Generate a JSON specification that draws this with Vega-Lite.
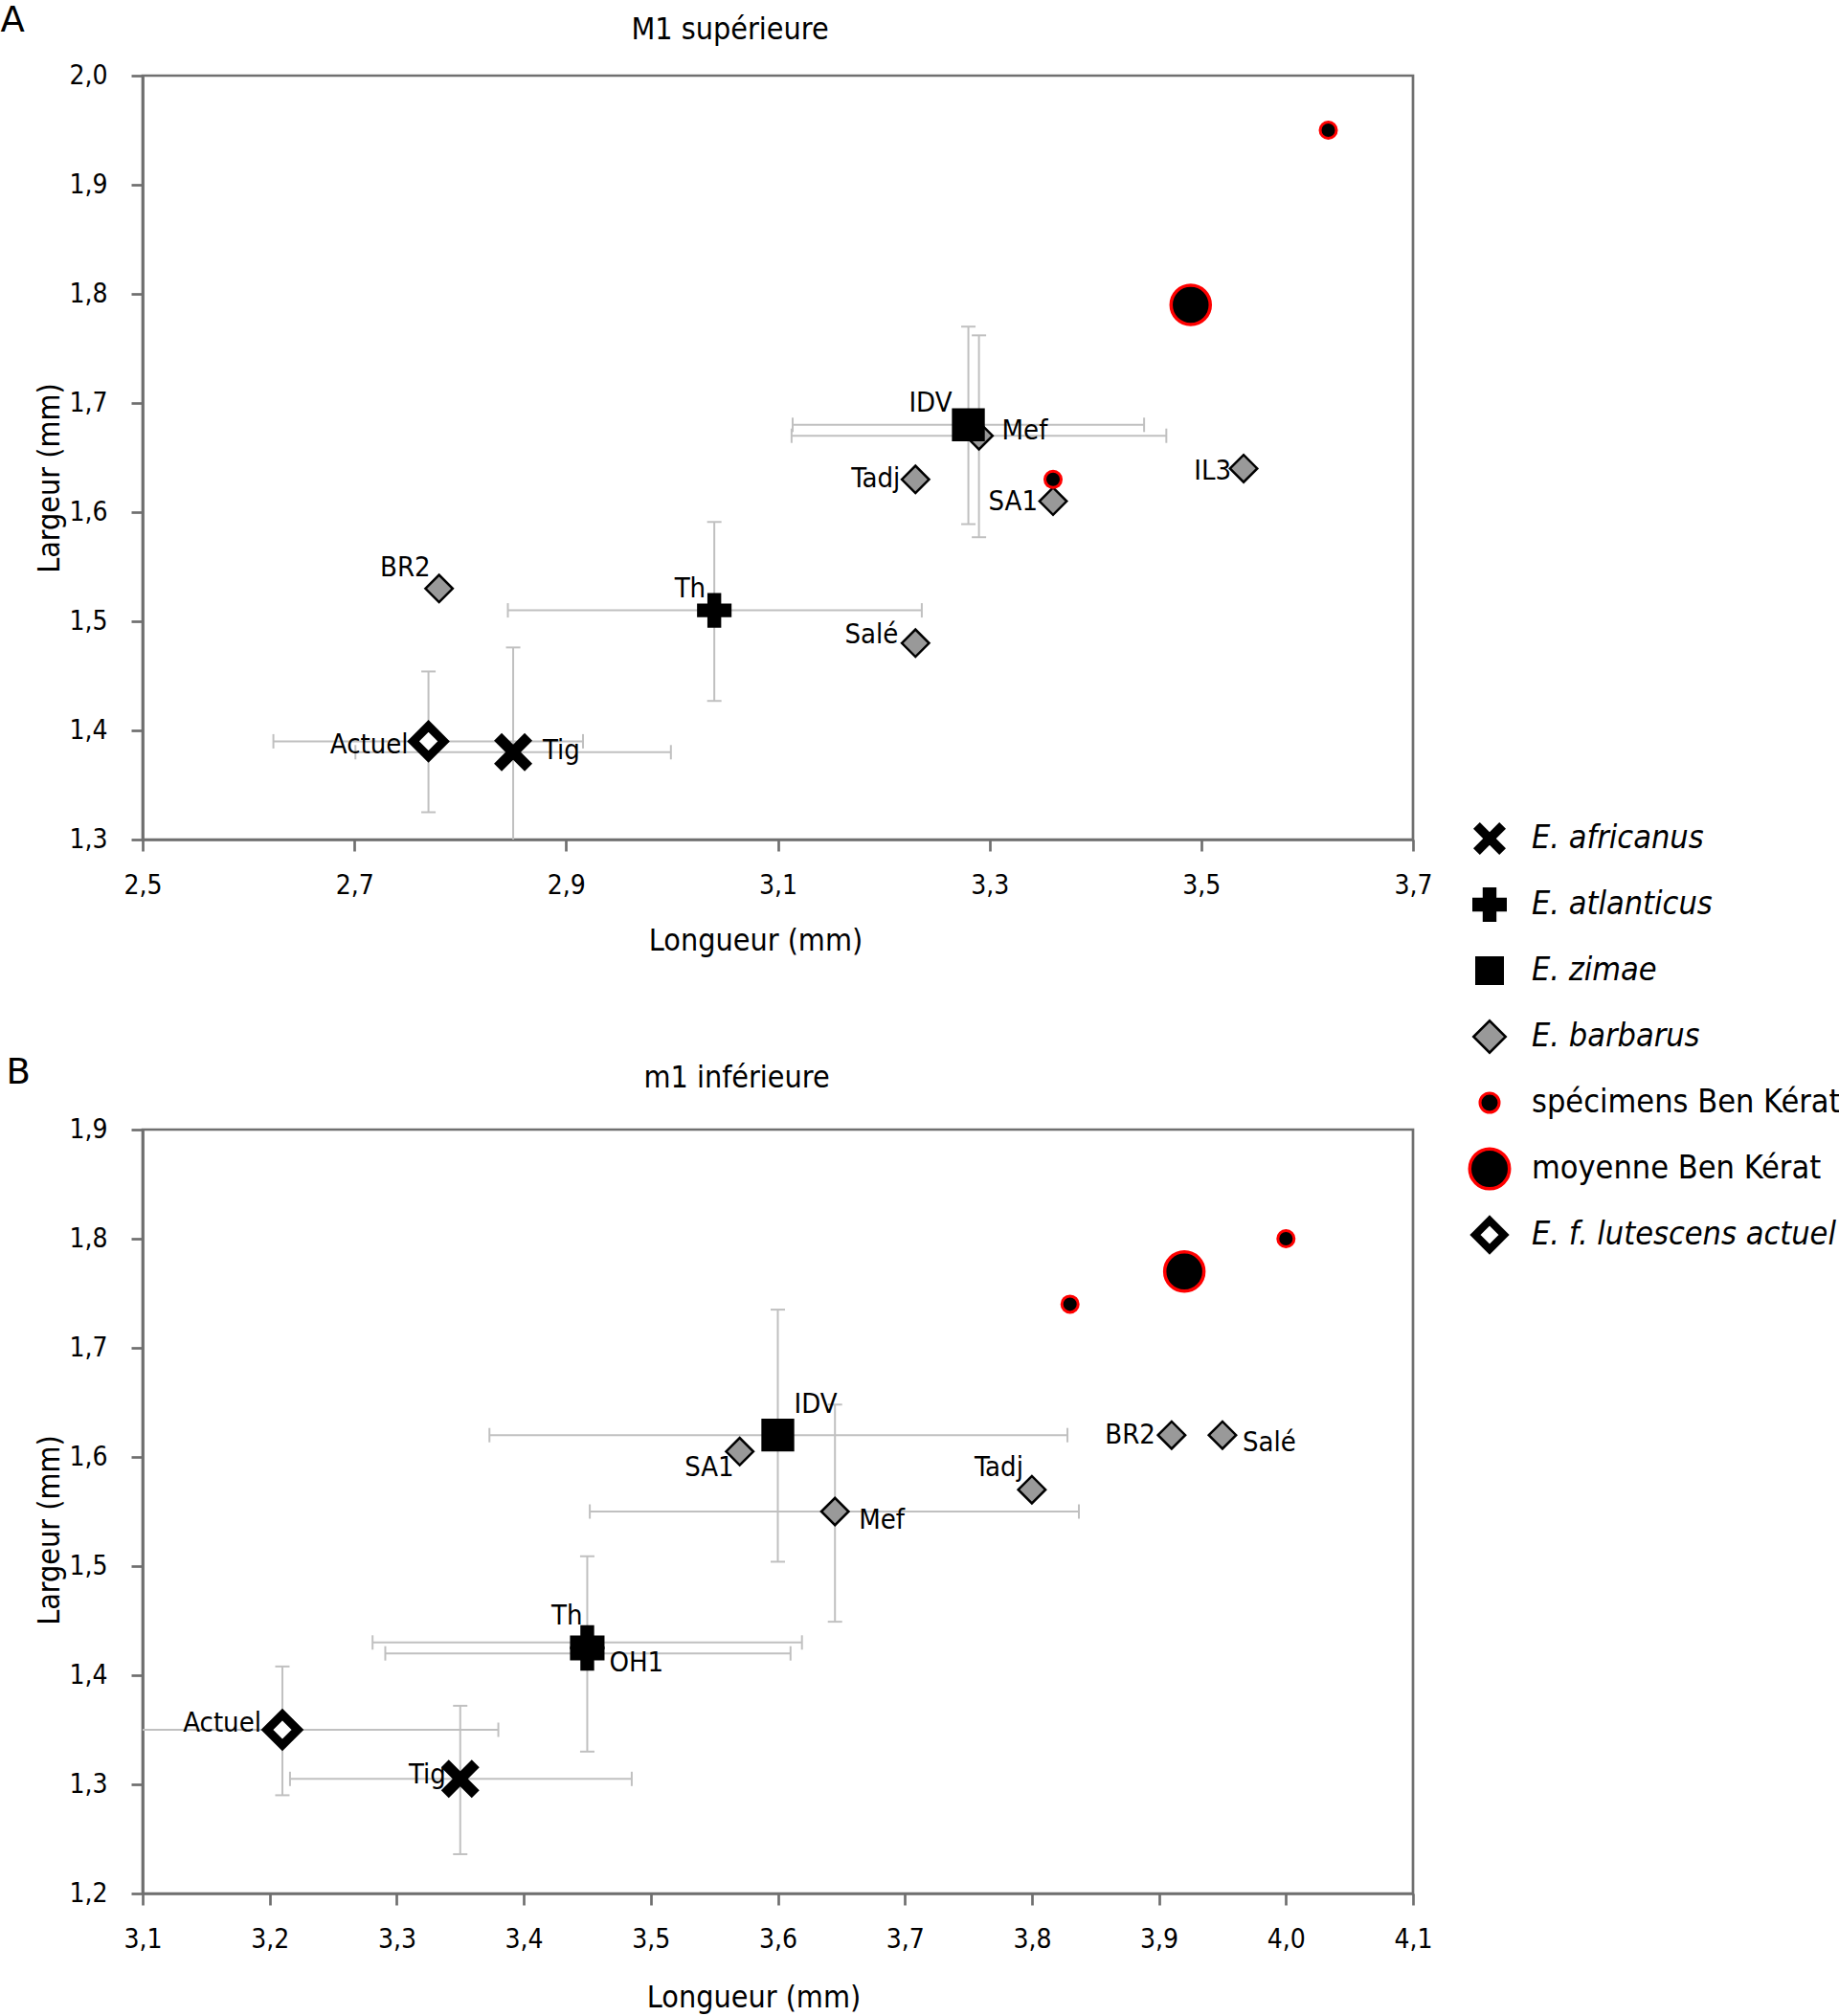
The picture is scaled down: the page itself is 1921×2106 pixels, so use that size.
{
  "$schema": "https://vega.github.io/schema/vega-lite/v6.json",
  "background": "white",
  "padding": {"left": -2, "top": 0, "right": 0, "bottom": 0},
  "spacing": 303,
  "bounds": "flush",
  "config": {
    "font": "DejaVu Sans Condensed, DejaVu Sans",
    "view": {"stroke": "#6f6f6f", "strokeWidth": 2.7},
    "axis": {"domainColor": "#6f6f6f", "domainWidth": 2.7, "tickColor": "#6f6f6f", "tickWidth": 2.7, "tickSize": 12, "labelFontSize": 28, "labelColor": "black", "titleFontSize": 32, "titleFontWeight": "normal", "titleColor": "black", "grid": false, "labelFlush": false, "labelOverlap": false},
    "axisX": {"labelPadding": 22},
    "axisY": {"labelPadding": 25}
  },
  "datasets": {
    "A": [
      {"lab": "BR2", "cat": "E. barbarus", "x": 2.78, "y": 1.53},
      {"lab": "Tadj", "cat": "E. barbarus", "x": 3.23, "y": 1.63},
      {"lab": "Salé", "cat": "E. barbarus", "x": 3.23, "y": 1.48},
      {"lab": "SA1", "cat": "E. barbarus", "x": 3.36, "y": 1.61},
      {"lab": "IL3", "cat": "E. barbarus", "x": 3.54, "y": 1.64},
      {"lab": "Mef", "cat": "E. barbarus", "x": 3.29, "y": 1.67, "xlo": 3.113, "xhi": 3.467, "ylo": 1.577, "yhi": 1.762},
      {"lab": "IDV", "cat": "E. zimae", "x": 3.28, "y": 1.68, "xlo": 3.114, "xhi": 3.446, "ylo": 1.589, "yhi": 1.770},
      {"lab": "Th", "cat": "E. atlanticus", "x": 3.04, "y": 1.51, "xlo": 2.845, "xhi": 3.236, "ylo": 1.427, "yhi": 1.591},
      {"lab": "Tig", "cat": "E. africanus", "x": 2.85, "y": 1.38, "xlo": 2.701, "xhi": 2.999, "ylo": 1.284, "yhi": 1.476},
      {"lab": "Actuel", "cat": "E. f. lutescens actuel", "x": 2.77, "y": 1.39, "xlo": 2.6235, "xhi": 2.916, "ylo": 1.325, "yhi": 1.454},
      {"cat": "spécimens Ben Kérat", "x": 3.36, "y": 1.63},
      {"cat": "spécimens Ben Kérat", "x": 3.62, "y": 1.95},
      {"cat": "moyenne Ben Kérat", "x": 3.49, "y": 1.79}
    ],
    "B": [
      {"lab": "SA1", "cat": "E. barbarus", "x": 3.57, "y": 1.605},
      {"lab": "Tadj", "cat": "E. barbarus", "x": 3.80, "y": 1.57},
      {"lab": "BR2", "cat": "E. barbarus", "x": 3.91, "y": 1.62},
      {"lab": "Salé", "cat": "E. barbarus", "x": 3.95, "y": 1.62},
      {"lab": "Mef", "cat": "E. barbarus", "x": 3.645, "y": 1.55, "xlo": 3.452, "xhi": 3.837, "ylo": 1.449, "yhi": 1.648},
      {"lab": "IDV", "cat": "E. zimae", "x": 3.60, "y": 1.62, "xlo": 3.373, "xhi": 3.828, "ylo": 1.504, "yhi": 1.735},
      {"lab": "Th", "cat": "E. atlanticus", "x": 3.45, "y": 1.43, "xlo": 3.281, "xhi": 3.619},
      {"lab": "OH1", "cat": "E. atlanticus", "x": 3.45, "y": 1.42, "xlo": 3.291, "xhi": 3.610, "ylo": 1.330, "yhi": 1.509},
      {"lab": "Tig", "cat": "E. africanus", "x": 3.35, "y": 1.305, "xlo": 3.216, "xhi": 3.485, "ylo": 1.236, "yhi": 1.372},
      {"lab": "Actuel", "cat": "E. f. lutescens actuel", "x": 3.21, "y": 1.35, "xlo": 3.04, "xhi": 3.38, "ylo": 1.29, "yhi": 1.408},
      {"cat": "spécimens Ben Kérat", "x": 3.83, "y": 1.74},
      {"cat": "spécimens Ben Kérat", "x": 4.00, "y": 1.80},
      {"cat": "moyenne Ben Kérat", "x": 3.92, "y": 1.77}
    ]
  },
  "vconcat": [
    {
      "width": 1327, "height": 798,
      "data": {"name": "A"},
      "resolve": {"axis": {"x": "independent"}},
      "layer": [
        {
          "transform": [{"filter": "isValid(datum.xlo)"}],
          "mark": {"type": "rule", "color": "#c0c0c0", "strokeWidth": 2, "clip": true},
          "encoding": {
            "x": {"field": "xlo", "type": "quantitative", "scale": {"domain": [2.5, 3.7], "nice": false, "zero": false},
              "axis": {"orient": "bottom", "values": [2.5, 2.7, 2.9, 3.1, 3.3, 3.5, 3.7], "labelExpr": "replace(format(datum.value, '.1f'), '.', ',')", "title": "Longueur (mm)", "titleX": 640, "titleY": 115, "titleAlign": "center", "titleBaseline": "alphabetic"}},
            "x2": {"field": "xhi"},
            "y": {"field": "y", "type": "quantitative", "scale": {"domain": [1.3, 2.0], "nice": false, "zero": false},
              "axis": {"values": [1.3, 1.4, 1.5, 1.6, 1.7, 1.8, 1.9, 2.0], "labelExpr": "replace(format(datum.value, '.1f'), '.', ',')", "title": "Largeur (mm)", "titleX": -88, "titleY": 420, "titleAngle": -90, "titleAlign": "center", "titleBaseline": "alphabetic"}}
          }
        },
        {
          "transform": [{"filter": "isValid(datum.ylo)"}],
          "mark": {"type": "rule", "color": "#c0c0c0", "strokeWidth": 2, "clip": true},
          "encoding": {
            "x": {"field": "x", "type": "quantitative", "axis": {"orient": "top", "title": "M1 supérieure", "labels": false, "ticks": false, "domain": false, "titleX": 613, "titleY": -39, "titleAlign": "center", "titleBaseline": "alphabetic", "titleFontSize": 32}},
            "y": {"field": "ylo", "type": "quantitative"},
            "y2": {"field": "yhi"}
          }
        },
        {
          "transform": [{"filter": "isValid(datum.xlo)"}],
          "mark": {"type": "tick", "orient": "vertical", "size": 15, "thickness": 2, "color": "#c0c0c0", "opacity": 1, "clip": true},
          "encoding": {
            "x": {"field": "xlo", "type": "quantitative", "axis": {"orient": "top", "title": "A", "labels": false, "ticks": false, "domain": false, "titleX": -149, "titleY": -47, "titleAlign": "left", "titleBaseline": "alphabetic", "titleFontSize": 37, "titleFont": "DejaVu Sans"}},
            "y": {"field": "y", "type": "quantitative"}
          }
        },
        {
          "transform": [{"filter": "isValid(datum.xhi)"}],
          "mark": {"type": "tick", "orient": "vertical", "size": 15, "thickness": 2, "color": "#c0c0c0", "opacity": 1, "clip": true},
          "encoding": {
            "x": {"field": "xhi", "type": "quantitative", "axis": null},
            "y": {"field": "y", "type": "quantitative"}
          }
        },
        {
          "transform": [{"filter": "isValid(datum.ylo)"}],
          "mark": {"type": "tick", "orient": "horizontal", "size": 15, "thickness": 2, "color": "#c0c0c0", "opacity": 1, "clip": true},
          "encoding": {
            "x": {"field": "x", "type": "quantitative", "axis": null},
            "y": {"field": "ylo", "type": "quantitative"}
          }
        },
        {
          "transform": [{"filter": "isValid(datum.yhi)"}],
          "mark": {"type": "tick", "orient": "horizontal", "size": 15, "thickness": 2, "color": "#c0c0c0", "opacity": 1, "clip": true},
          "encoding": {
            "x": {"field": "x", "type": "quantitative", "axis": null},
            "y": {"field": "yhi", "type": "quantitative"}
          }
        },
        {
          "mark": {"type": "point", "filled": true, "opacity": 1},
          "encoding": {
            "x": {"field": "x", "type": "quantitative", "axis": null},
            "y": {"field": "y", "type": "quantitative"},
            "shape": {"field": "cat", "type": "nominal",
              "scale": {"domain": ["E. africanus", "E. atlanticus", "E. zimae", "E. barbarus", "spécimens Ben Kérat", "moyenne Ben Kérat", "E. f. lutescens actuel"],
                "range": ["M -1 -0.6 L -0.6 -1 L 0 -0.4 L 0.6 -1 L 1 -0.6 L 0.4 0 L 1 0.6 L 0.6 1 L 0 0.4 L -0.6 1 L -1 0.6 L -0.4 0 Z", "cross", "square", "diamond", "circle", "circle", "diamond"]},
              "legend": {"title": null, "orient": "none", "legendX": 1390, "legendY": 780, "labelFontSize": 34, "labelLimit": 600, "labelOffset": 27, "rowPadding": 7, "gridAlign": "all", "padding": 0, "labelColor": "black",
                "symbolSize": {"expr": "isString(datum) ? 100 : [1156,1296,900,1120,400,1720,900][indexof(['E. africanus','E. atlanticus','E. zimae','E. barbarus','spécimens Ben Kérat','moyenne Ben Kérat','E. f. lutescens actuel'], datum.value)]"},
                "symbolStrokeWidth": {"expr": "isString(datum) ? 0 : [0,0,0,2.5,3,3.5,8][indexof(['E. africanus','E. atlanticus','E. zimae','E. barbarus','spécimens Ben Kérat','moyenne Ben Kérat','E. f. lutescens actuel'], datum.value)]"},
                "labelFontStyle": {"expr": "indexof(datum.label, 'Ben') >= 0 ? 'normal' : 'italic'"}}},
            "fill": {"field": "cat", "type": "nominal", "legend": null,
              "scale": {"domain": ["E. africanus", "E. atlanticus", "E. zimae", "E. barbarus", "spécimens Ben Kérat", "moyenne Ben Kérat", "E. f. lutescens actuel"],
                "range": ["black", "black", "black", "#999999", "black", "black", "white"]}},
            "stroke": {"field": "cat", "type": "nominal", "legend": null,
              "scale": {"domain": ["E. africanus", "E. atlanticus", "E. zimae", "E. barbarus", "spécimens Ben Kérat", "moyenne Ben Kérat", "E. f. lutescens actuel"],
                "range": ["black", "black", "black", "black", "#ff0000", "#ff0000", "black"]}},
            "size": {"condition": [
              {"test": "datum.cat === 'E. africanus'", "value": 1600},
              {"test": "datum.cat === 'E. atlanticus'", "value": 1300},
              {"test": "datum.cat === 'E. zimae'", "value": 1180},
              {"test": "datum.cat === 'spécimens Ben Kérat'", "value": 290},
              {"test": "datum.cat === 'moyenne Ben Kérat'", "value": 1680},
              {"test": "datum.cat === 'E. f. lutescens actuel'", "value": 1020}
            ], "value": 810},
            "strokeWidth": {"condition": [
              {"test": "datum.cat === 'E. africanus' || datum.cat === 'E. atlanticus' || datum.cat === 'E. zimae'", "value": 0},
              {"test": "datum.cat === 'spécimens Ben Kérat'", "value": 3},
              {"test": "datum.cat === 'moyenne Ben Kérat'", "value": 3.5},
              {"test": "datum.cat === 'E. f. lutescens actuel'", "value": 9}
            ], "value": 2.5}
          }
        },
        {
          "transform": [{"filter": "isValid(datum.lab)"}],
          "mark": {"type": "text", "fontSize": 29, "baseline": "alphabetic", "color": "black",
            "align": {"expr": "indexof(['Mef','Tig'], datum.lab) >= 0 ? 'left' : 'right'"},
            "dx": {"expr": "[-17,-9,-9,-16,-16,-13,-21,-18,24,31][indexof(['IDV','BR2','Th','Tadj','SA1','IL3','Actuel','Salé','Mef','Tig'], datum.lab)]"},
            "dy": {"expr": "[-14,-13,-14,8,9,12,13,0,4,7][indexof(['IDV','BR2','Th','Tadj','SA1','IL3','Actuel','Salé','Mef','Tig'], datum.lab)]"}},
          "encoding": {
            "x": {"field": "x", "type": "quantitative", "axis": null},
            "y": {"field": "y", "type": "quantitative"},
            "text": {"field": "lab"}
          }
        }
      ]
    },
    {
      "width": 1327, "height": 798,
      "data": {"name": "B"},
      "resolve": {"axis": {"x": "independent"}},
      "layer": [
        {
          "transform": [{"filter": "isValid(datum.xlo)"}],
          "mark": {"type": "rule", "color": "#c0c0c0", "strokeWidth": 2, "clip": true},
          "encoding": {
            "x": {"field": "xlo", "type": "quantitative", "scale": {"domain": [3.1, 4.1], "nice": false, "zero": false},
              "axis": {"orient": "bottom", "values": [3.1, 3.2, 3.3, 3.4, 3.5, 3.6, 3.7, 3.8, 3.9, 4.0, 4.1], "labelExpr": "replace(format(datum.value, '.1f'), '.', ',')", "title": "Longueur (mm)", "titleX": 638, "titleY": 118, "titleAlign": "center", "titleBaseline": "alphabetic"}},
            "x2": {"field": "xhi"},
            "y": {"field": "y", "type": "quantitative", "scale": {"domain": [1.2, 1.9], "nice": false, "zero": false},
              "axis": {"values": [1.2, 1.3, 1.4, 1.5, 1.6, 1.7, 1.8, 1.9], "labelExpr": "replace(format(datum.value, '.1f'), '.', ',')", "title": "Largeur (mm)", "titleX": -88, "titleY": 418, "titleAngle": -90, "titleAlign": "center", "titleBaseline": "alphabetic"}}
          }
        },
        {
          "transform": [{"filter": "isValid(datum.ylo)"}],
          "mark": {"type": "rule", "color": "#c0c0c0", "strokeWidth": 2, "clip": true},
          "encoding": {
            "x": {"field": "x", "type": "quantitative", "axis": {"orient": "top", "title": "m1 inférieure", "labels": false, "ticks": false, "domain": false, "titleX": 620, "titleY": -45, "titleAlign": "center", "titleBaseline": "alphabetic", "titleFontSize": 32}},
            "y": {"field": "ylo", "type": "quantitative"},
            "y2": {"field": "yhi"}
          }
        },
        {
          "transform": [{"filter": "isValid(datum.xlo)"}],
          "mark": {"type": "tick", "orient": "vertical", "size": 15, "thickness": 2, "color": "#c0c0c0", "opacity": 1, "clip": true},
          "encoding": {
            "x": {"field": "xlo", "type": "quantitative", "axis": {"orient": "top", "title": "B", "labels": false, "ticks": false, "domain": false, "titleX": -143, "titleY": -49, "titleAlign": "left", "titleBaseline": "alphabetic", "titleFontSize": 37, "titleFont": "DejaVu Sans"}},
            "y": {"field": "y", "type": "quantitative"}
          }
        },
        {
          "transform": [{"filter": "isValid(datum.xhi)"}],
          "mark": {"type": "tick", "orient": "vertical", "size": 15, "thickness": 2, "color": "#c0c0c0", "opacity": 1, "clip": true},
          "encoding": {
            "x": {"field": "xhi", "type": "quantitative", "axis": null},
            "y": {"field": "y", "type": "quantitative"}
          }
        },
        {
          "transform": [{"filter": "isValid(datum.ylo)"}],
          "mark": {"type": "tick", "orient": "horizontal", "size": 15, "thickness": 2, "color": "#c0c0c0", "opacity": 1, "clip": true},
          "encoding": {
            "x": {"field": "x", "type": "quantitative", "axis": null},
            "y": {"field": "ylo", "type": "quantitative"}
          }
        },
        {
          "transform": [{"filter": "isValid(datum.yhi)"}],
          "mark": {"type": "tick", "orient": "horizontal", "size": 15, "thickness": 2, "color": "#c0c0c0", "opacity": 1, "clip": true},
          "encoding": {
            "x": {"field": "x", "type": "quantitative", "axis": null},
            "y": {"field": "yhi", "type": "quantitative"}
          }
        },
        {
          "mark": {"type": "point", "filled": true, "opacity": 1},
          "encoding": {
            "x": {"field": "x", "type": "quantitative", "axis": null},
            "y": {"field": "y", "type": "quantitative"},
            "shape": {"field": "cat", "type": "nominal",
              "scale": {"domain": ["E. africanus", "E. atlanticus", "E. zimae", "E. barbarus", "spécimens Ben Kérat", "moyenne Ben Kérat", "E. f. lutescens actuel"],
                "range": ["M -1 -0.6 L -0.6 -1 L 0 -0.4 L 0.6 -1 L 1 -0.6 L 0.4 0 L 1 0.6 L 0.6 1 L 0 0.4 L -0.6 1 L -1 0.6 L -0.4 0 Z", "cross", "square", "diamond", "circle", "circle", "diamond"]},
              "legend": {"title": null, "orient": "none", "legendX": 1390, "legendY": 780, "labelFontSize": 34, "labelLimit": 600, "labelOffset": 27, "rowPadding": 7, "gridAlign": "all", "padding": 0, "labelColor": "black",
                "symbolSize": {"expr": "isString(datum) ? 100 : [1156,1296,900,1120,400,1720,900][indexof(['E. africanus','E. atlanticus','E. zimae','E. barbarus','spécimens Ben Kérat','moyenne Ben Kérat','E. f. lutescens actuel'], datum.value)]"},
                "symbolStrokeWidth": {"expr": "isString(datum) ? 0 : [0,0,0,2.5,3,3.5,8][indexof(['E. africanus','E. atlanticus','E. zimae','E. barbarus','spécimens Ben Kérat','moyenne Ben Kérat','E. f. lutescens actuel'], datum.value)]"},
                "labelFontStyle": {"expr": "indexof(datum.label, 'Ben') >= 0 ? 'normal' : 'italic'"}}},
            "fill": {"field": "cat", "type": "nominal", "legend": null,
              "scale": {"domain": ["E. africanus", "E. atlanticus", "E. zimae", "E. barbarus", "spécimens Ben Kérat", "moyenne Ben Kérat", "E. f. lutescens actuel"],
                "range": ["black", "black", "black", "#999999", "black", "black", "white"]}},
            "stroke": {"field": "cat", "type": "nominal", "legend": null,
              "scale": {"domain": ["E. africanus", "E. atlanticus", "E. zimae", "E. barbarus", "spécimens Ben Kérat", "moyenne Ben Kérat", "E. f. lutescens actuel"],
                "range": ["black", "black", "black", "black", "#ff0000", "#ff0000", "black"]}},
            "size": {"condition": [
              {"test": "datum.cat === 'E. africanus'", "value": 1600},
              {"test": "datum.cat === 'E. atlanticus'", "value": 1300},
              {"test": "datum.cat === 'E. zimae'", "value": 1180},
              {"test": "datum.cat === 'spécimens Ben Kérat'", "value": 290},
              {"test": "datum.cat === 'moyenne Ben Kérat'", "value": 1680},
              {"test": "datum.cat === 'E. f. lutescens actuel'", "value": 1020}
            ], "value": 810},
            "strokeWidth": {"condition": [
              {"test": "datum.cat === 'E. africanus' || datum.cat === 'E. atlanticus' || datum.cat === 'E. zimae'", "value": 0},
              {"test": "datum.cat === 'spécimens Ben Kérat'", "value": 3},
              {"test": "datum.cat === 'moyenne Ben Kérat'", "value": 3.5},
              {"test": "datum.cat === 'E. f. lutescens actuel'", "value": 9}
            ], "value": 2.5}
          }
        },
        {
          "transform": [{"filter": "isValid(datum.lab)"}],
          "mark": {"type": "text", "fontSize": 29, "baseline": "alphabetic", "color": "black",
            "align": {"expr": "indexof(['OH1','IDV','Mef','Salé'], datum.lab) >= 0 ? 'left' : 'right'"},
            "dx": {"expr": "[-22,-15,-5,-6,-9,-17,23,17,25,21][indexof(['Actuel','Tig','Th','SA1','Tadj','BR2','OH1','IDV','Mef','Salé'], datum.lab)]"},
            "dy": {"expr": "[2,5,-19,26,-14,9,19,-23,18,17][indexof(['Actuel','Tig','Th','SA1','Tadj','BR2','OH1','IDV','Mef','Salé'], datum.lab)]"}},
          "encoding": {
            "x": {"field": "x", "type": "quantitative", "axis": null},
            "y": {"field": "y", "type": "quantitative"},
            "text": {"field": "lab"}
          }
        }
      ]
    }
  ]
}
